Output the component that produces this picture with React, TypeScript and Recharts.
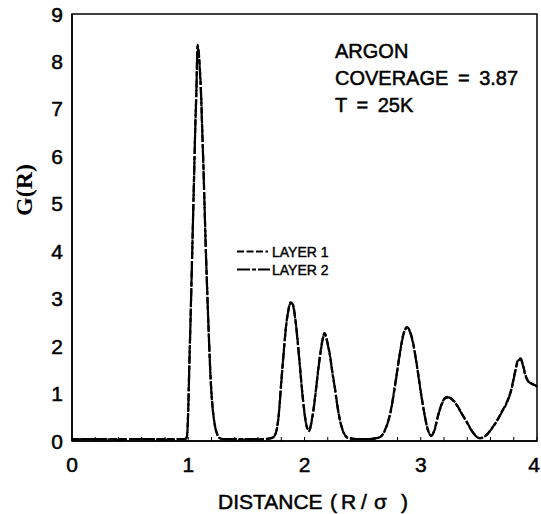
import React from "react";
import { LineChart, Line, XAxis, YAxis, ReferenceArea, Customized } from "recharts";

// Distance R/sigma
const distance = [
  0, 0.2, 0.4, 0.6, 0.8, 0.96, 0.98, 0.99, 1.0, 1.01, 1.02, 1.03, 1.04, 1.05, 1.06, 1.07, 1.08,
  1.09, 1.1, 1.11, 1.12, 1.13, 1.14, 1.15, 1.16, 1.17, 1.18, 1.19, 1.2, 1.21, 1.22, 1.23, 1.25,
  1.27, 1.3, 1.5, 1.65, 1.72, 1.75, 1.78, 1.8, 1.82, 1.84, 1.86, 1.88, 1.9, 1.92, 1.94, 1.96,
  1.98, 2.0, 2.02, 2.04, 2.06, 2.08, 2.1, 2.12, 2.14, 2.16, 2.17, 2.18, 2.2, 2.22, 2.24, 2.26,
  2.28, 2.3, 2.32, 2.34, 2.37, 2.45, 2.55, 2.62, 2.66, 2.7, 2.74, 2.78, 2.82, 2.85, 2.88, 2.91,
  2.94, 2.97, 3.0, 3.03, 3.06, 3.09, 3.12, 3.15, 3.18, 3.21, 3.24, 3.27, 3.3, 3.33, 3.36, 3.39,
  3.42, 3.45, 3.48, 3.51, 3.54, 3.58, 3.62, 3.66, 3.7, 3.74, 3.78, 3.81, 3.84, 3.86, 3.88, 3.9,
  3.92, 3.95, 3.98, 4.0,
];

// G(R) for layer 1
const layer1 = [
  0.04, 0.04, 0.04, 0.04, 0.04, 0.04, 0.05, 0.12, 0.7, 1.7, 2.6, 3.6, 4.6, 5.6, 6.6, 7.4, 8.35,
  8.2, 7.85, 7.35, 6.6, 5.85, 5.0, 4.15, 3.4, 2.7, 2.05, 1.45, 1.0, 0.7, 0.48, 0.32, 0.14,
  0.06, 0.04, 0.03, 0.04, 0.07, 0.15, 0.6, 1.25, 1.85, 2.4, 2.75, 2.92, 2.88, 2.6, 2.15, 1.6,
  1.05, 0.6, 0.3, 0.22, 0.4, 0.72, 1.12, 1.55, 1.92, 2.2, 2.28, 2.25, 2.05, 1.8, 1.45, 1.15,
  0.8, 0.5, 0.3, 0.16, 0.07, 0.04, 0.04, 0.06, 0.1, 0.28, 0.62, 1.2, 1.85, 2.25, 2.4, 2.3,
  2.0, 1.55, 1.05, 0.6, 0.25, 0.11, 0.25, 0.55, 0.78, 0.91, 0.93, 0.88, 0.8, 0.68, 0.55, 0.43,
  0.3, 0.18, 0.09, 0.06, 0.08, 0.17, 0.3, 0.45, 0.63, 0.82, 1.1, 1.45, 1.72, 1.74, 1.6, 1.4,
  1.28, 1.22, 1.18, 1.15,
];

// G(R) for layer 2
const layer2 = [
  0.03, 0.04, 0.03, 0.04, 0.03, 0.04, 0.05, 0.1, 0.65, 1.65, 2.55, 3.55, 4.55, 5.55, 6.55, 7.35, 8.3,
  8.18, 7.8, 7.3, 6.55, 5.8, 4.95, 4.1, 3.38, 2.68, 2.02, 1.42, 0.98, 0.68, 0.47, 0.31, 0.13,
  0.06, 0.04, 0.04, 0.04, 0.06, 0.14, 0.58, 1.22, 1.82, 2.38, 2.73, 2.9, 2.86, 2.58, 2.12, 1.58,
  1.03, 0.58, 0.29, 0.21, 0.39, 0.7, 1.1, 1.53, 1.9, 2.18, 2.26, 2.23, 2.03, 1.78, 1.43, 1.13,
  0.78, 0.49, 0.29, 0.15, 0.07, 0.04, 0.04, 0.06, 0.1, 0.27, 0.6, 1.18, 1.83, 2.23, 2.38, 2.28,
  1.98, 1.53, 1.03, 0.59, 0.24, 0.11, 0.24, 0.54, 0.77, 0.9, 0.92, 0.87, 0.79, 0.67, 0.54, 0.42,
  0.29, 0.17, 0.09, 0.06, 0.08, 0.16, 0.29, 0.44, 0.62, 0.8, 1.08, 1.43, 1.7, 1.72, 1.58, 1.38,
  1.27, 1.21, 1.17, 1.14,
];

const xTicks = [0, 0.2, 0.4, 0.6, 0.8, 1, 1.2, 1.4, 1.6, 1.8, 2, 2.2, 2.4, 2.6, 2.8, 3, 3.2, 3.4, 3.6, 3.8, 4];
const yTicks = [0, 1, 2, 3, 4, 5, 6, 7, 8, 9];
const seriesNames = ["LAYER 1", "LAYER 2"];
const annotation = ["ARGON", "COVERAGE = 3.87", "T = 25K"];

const data = distance.map((d, i) => ({ x: d, l1: layer1[i], l2: layer2[i] }));

const SANS = "'Liberation Sans', Arial, Helvetica, sans-serif";
const DASH1 = "7 2.5";
const DASH2 = "13 2 4 2";
const TEXT_STROKE = { stroke: "#000", strokeWidth: 0.5 };

function XTick(props: any) {
  const { x, y, payload } = props;
  const v = payload.value;
  const major = Math.abs(v - Math.round(v)) < 1e-6;
  const lx = Math.min(x, 534);
  return (
    <g>
      <line x1={x} x2={x} y1={y} y2={y - 4} stroke="#000" strokeWidth={1} />
      {major && (
        <text x={lx} y={y + 31} textAnchor="middle" fontSize={21} fontFamily={SANS} fill="#000" {...TEXT_STROKE}>
          {Math.round(v)}
        </text>
      )}
    </g>
  );
}

function YTick(props: any) {
  const { x, y, payload } = props;
  return (
    <text x={x} y={y} dy="0.36em" textAnchor="end" fontSize={21} fontFamily={SANS} fill="#000" {...TEXT_STROKE}>
      {payload.value}
    </text>
  );
}

function Decorations() {
  return (
    <g>
      {annotation.map((t, i) => (
        <text
          key={t}
          x={335}
          y={58 + i * 27}
          fontSize={20}
          fontFamily={SANS}
          fill="#000"
          {...TEXT_STROKE}
          style={{ wordSpacing: "4px" }}
        >
          {t}
        </text>
      ))}
      <line x1={237} x2={268} y1={251.5} y2={251.5} stroke="#000" strokeWidth={2.2} strokeDasharray={DASH1} />
      <text x={272} y={257} fontSize={14} fontFamily={SANS} fill="#000" stroke="#000" strokeWidth={0.4}>
        {seriesNames[0]}
      </text>
      <line x1={237} x2={270} y1={269.5} y2={269.5} stroke="#000" strokeWidth={2.2} strokeDasharray={DASH2} />
      <text x={272} y={275} fontSize={14} fontFamily={SANS} fill="#000" stroke="#000" strokeWidth={0.4}>
        {seriesNames[1]}
      </text>
      <text
        x={0}
        y={0}
        transform="translate(32,190) rotate(-90)"
        textAnchor="middle"
        fontSize={24}
        fontWeight="bold"
        fontFamily="'Liberation Serif', 'Times New Roman', serif"
        fill="#000"
      >
        G(R)
      </text>
      <text y={509} fontSize={21} fontFamily={SANS} fill="#000" {...TEXT_STROKE}>
        <tspan x={218}>DISTANCE</tspan>
        <tspan x={330}>(</tspan>
        <tspan x={341}>R</tspan>
        <tspan x={361}>/</tspan>
        <tspan x={374}>σ</tspan>
        <tspan x={401}>)</tspan>
      </text>
    </g>
  );
}

export default function App() {
  return (
    <div style={{ position: "absolute", left: 0, top: 0, width: 541, height: 514, background: "#fff" }}>
      <LineChart width={541} height={514} data={data} margin={{ top: 14, right: 4, left: 0, bottom: 0 }}>
        <XAxis
          dataKey="x"
          type="number"
          domain={[0, 4]}
          ticks={xTicks}
          interval={0}
          height={73}
          tickSize={0}
          tickMargin={0}
          tick={<XTick />}
          axisLine={{ stroke: "#000", strokeWidth: 1.5 }}
          tickLine={false}
        />
        <YAxis
          type="number"
          domain={[0, 9]}
          ticks={yTicks}
          interval={0}
          width={72}
          tickSize={0}
          tickMargin={9}
          tickLine={false}
          axisLine={{ stroke: "#000", strokeWidth: 1.5 }}
          tick={<YTick />}
        />
        <ReferenceArea x1={0} x2={4} y1={0} y2={9} stroke="#000" strokeWidth={1.5} fill="none" fillOpacity={0} />
        <Line
          dataKey="l2"
          name={seriesNames[1]}
          type="monotone"
          stroke="#000"
          strokeWidth={2.2}
          strokeDasharray={DASH2}
          dot={false}
          isAnimationActive={false}
        />
        <Line
          dataKey="l1"
          name={seriesNames[0]}
          type="monotone"
          stroke="#000"
          strokeWidth={2.2}
          strokeDasharray={DASH1}
          dot={false}
          isAnimationActive={false}
        />
        <Customized component={<Decorations />} />
      </LineChart>
    </div>
  );
}
